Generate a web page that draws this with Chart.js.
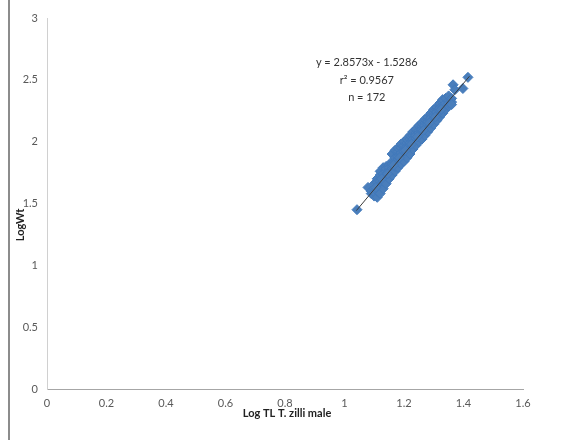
<!DOCTYPE html>
<html>
<head>
<meta charset="utf-8">
<script src="https://cdn.jsdelivr.net/npm/chart.js@4"></script>
<style>
  html, body { margin: 0; padding: 0; background: #fff; }
  #wrap { width: 574px; height: 440px; position: relative; }
</style>
</head>
<body>
<div id="wrap"><canvas id="scatterChart" width="574" height="440"></canvas></div>
<script>
  // Log TL vs Log Wt, T. zilli male
  const logTL = [
    1.042, 1.079, 1.09, 1.09, 1.10, 1.10, 1.10, 1.10,
    1.11, 1.11, 1.11, 1.11, 1.11,
    1.12, 1.12, 1.12, 1.12, 1.12, 1.12,
    1.13, 1.13, 1.13, 1.13, 1.13, 1.13,
    1.14, 1.14, 1.14, 1.14, 1.14, 1.14,
    1.15, 1.15, 1.15, 1.15, 1.15, 1.15,
    1.16, 1.16, 1.16, 1.16, 1.16, 1.16, 1.16,
    1.17, 1.17, 1.17, 1.17, 1.17, 1.17,
    1.18, 1.18, 1.18, 1.18, 1.18, 1.18,
    1.19, 1.19, 1.19, 1.19, 1.19, 1.19,
    1.20, 1.20, 1.20, 1.20, 1.20, 1.20,
    1.21, 1.21, 1.21, 1.21, 1.21, 1.21,
    1.22, 1.22, 1.22, 1.22, 1.22, 1.22,
    1.23, 1.23, 1.23, 1.23, 1.23, 1.23,
    1.24, 1.24, 1.24, 1.24, 1.24, 1.24,
    1.25, 1.25, 1.25, 1.25, 1.25, 1.25,
    1.26, 1.26, 1.26, 1.26, 1.26, 1.26,
    1.27, 1.27, 1.27, 1.27, 1.27, 1.27,
    1.28, 1.28, 1.28, 1.28, 1.28, 1.28,
    1.29, 1.29, 1.29, 1.29, 1.29, 1.29,
    1.30, 1.30, 1.30, 1.30, 1.30, 1.30,
    1.31, 1.31, 1.31, 1.31, 1.31, 1.31,
    1.32, 1.32, 1.32, 1.32, 1.32, 1.32,
    1.33, 1.33, 1.33, 1.33, 1.33,
    1.34, 1.34, 1.34, 1.34,
    1.35, 1.35, 1.35, 1.35,
    1.36, 1.36, 1.36,
    1.365, 1.371, 1.398, 1.415,
    1.105, 1.125, 1.145, 1.165, 1.185, 1.205,
    1.225, 1.245, 1.265, 1.285, 1.305, 1.325
  ];
  const logWt = [
    1.45, 1.63, 1.58, 1.60, 1.56, 1.62, 1.66, 1.59,
    1.55, 1.64, 1.70, 1.60, 1.67,
    1.62, 1.68, 1.73, 1.58, 1.76, 1.65,
    1.66, 1.71, 1.79, 1.62, 1.74, 1.68,
    1.70, 1.76, 1.80, 1.66, 1.73, 1.78,
    1.72, 1.77, 1.81, 1.70, 1.75, 1.79,
    1.76, 1.80, 1.84, 1.73, 1.78, 1.90, 1.82,
    1.78, 1.83, 1.87, 1.76, 1.93, 1.80,
    1.81, 1.86, 1.92, 1.79, 1.95, 1.88,
    1.84, 1.89, 1.95, 1.82, 1.98, 1.91,
    1.86, 1.92, 1.97, 1.89, 2.00, 1.84,
    1.90, 1.94, 1.99, 1.87, 2.02, 1.96,
    1.93, 1.97, 2.02, 1.90, 2.05, 1.99,
    1.96, 2.00, 2.05, 1.94, 2.08, 2.02,
    1.99, 2.03, 2.07, 1.97, 2.10, 2.05,
    2.01, 2.05, 2.09, 2.00, 2.13, 2.07,
    2.04, 2.08, 2.12, 2.02, 2.15, 2.10,
    2.07, 2.11, 2.15, 2.05, 2.18, 2.13,
    2.10, 2.14, 2.18, 2.08, 2.20, 2.16,
    2.13, 2.17, 2.21, 2.11, 2.23, 2.19,
    2.15, 2.19, 2.23, 2.14, 2.26, 2.21,
    2.18, 2.22, 2.26, 2.17, 2.28, 2.24,
    2.21, 2.25, 2.29, 2.20, 2.31, 2.27,
    2.24, 2.28, 2.32, 2.23, 2.34,
    2.27, 2.31, 2.35, 2.26,
    2.29, 2.33, 2.37, 2.31,
    2.32, 2.35, 2.30,
    2.46, 2.42, 2.43, 2.52,
    1.63, 1.70, 1.74, 1.81, 1.87, 1.93,
    1.98, 2.04, 2.09, 2.15, 2.20, 2.26
  ];

  // trendline from the equation shown on the chart
  const slope = 2.8573;
  const intercept = -1.5286;
  const trendX = [1.04, 1.42];
  const labelLines = ["y = 2.8573x - 1.5286", "r\u00b2 = 0.9567", "n = 172"];

  const FONT = "Lato, 'Liberation Sans', sans-serif";

  const points = logTL.map((x, i) => ({ x: x, y: logWt[i] }));
  const trend = trendX.map(x => ({ x: x, y: slope * x + intercept }));
  const fmt = v => String(Math.round(v * 10) / 10);

  const extras = {
    id: "extras",
    afterDraw(chart) {
      const ctx = chart.ctx;
      const xs = chart.scales.x, ys = chart.scales.y;
      ctx.save();
      // left page border line
      ctx.strokeStyle = "#8c8c8c";
      ctx.lineWidth = 2;
      ctx.beginPath();
      ctx.moveTo(9, 0);
      ctx.lineTo(9, 440);
      ctx.stroke();

      // equation label
      ctx.fillStyle = "#333";
      ctx.font = "11px " + FONT;
      ctx.textAlign = "center";
      ctx.textBaseline = "middle";
      const cx = xs.getPixelForValue(1.075);
      labelLines.forEach((t, i) => {
        ctx.fillText(t, cx, ys.getPixelForValue(2.64) + i * 17.5);
      });

      // axis titles
      ctx.font = "bold 11px " + FONT;
      ctx.fillStyle = "#222";
      ctx.fillText("Log TL T. zilli male", 287, 413);
      ctx.translate(20, 225);
      ctx.rotate(-Math.PI / 2);
      ctx.fillText("LogWt", 0, 0);
      ctx.restore();
    }
  };

  new Chart(document.getElementById("scatterChart"), {
    type: "scatter",
    data: {
      datasets: [{
        label: "LogWt",
        data: points,
        pointStyle: "rectRot",
        pointRadius: 5,
        backgroundColor: "#4a7ebb",
        borderColor: "#4179bb",
        borderWidth: 1,
        order: 1
      }, {
        type: "line",
        label: "Linear",
        data: trend,
        borderColor: "#3a3a3a",
        borderWidth: 1,
        pointRadius: 0,
        fill: false,
        order: 0
      }]
    },
    options: {
      responsive: false,
      animation: false,
      layout: { padding: { top: 18, right: 51, left: 0, bottom: 0 } },
      plugins: { legend: { display: false }, tooltip: { enabled: false } },
      scales: {
        x: {
          type: "linear",
          min: 0, max: 1.6,
          ticks: { stepSize: 0.2, color: "#595959", font: { size: 11, family: FONT }, padding: 8, callback: fmt },
          grid: { display: true, drawOnChartArea: false, drawTicks: false },
          border: { color: "#a6a6a6", width: 1 },
          afterFit(s) { s.height = 51; }
        },
        y: {
          min: 0, max: 3,
          ticks: { stepSize: 0.5, color: "#595959", font: { size: 11, family: FONT }, padding: 9, callback: fmt },
          grid: { display: true, drawOnChartArea: false, drawTicks: false },
          border: { color: "#d0d0d0", width: 1 },
          afterFit(s) { s.width = 47; }
        }
      }
    },
    plugins: [extras]
  });
</script>
</body>
</html>
